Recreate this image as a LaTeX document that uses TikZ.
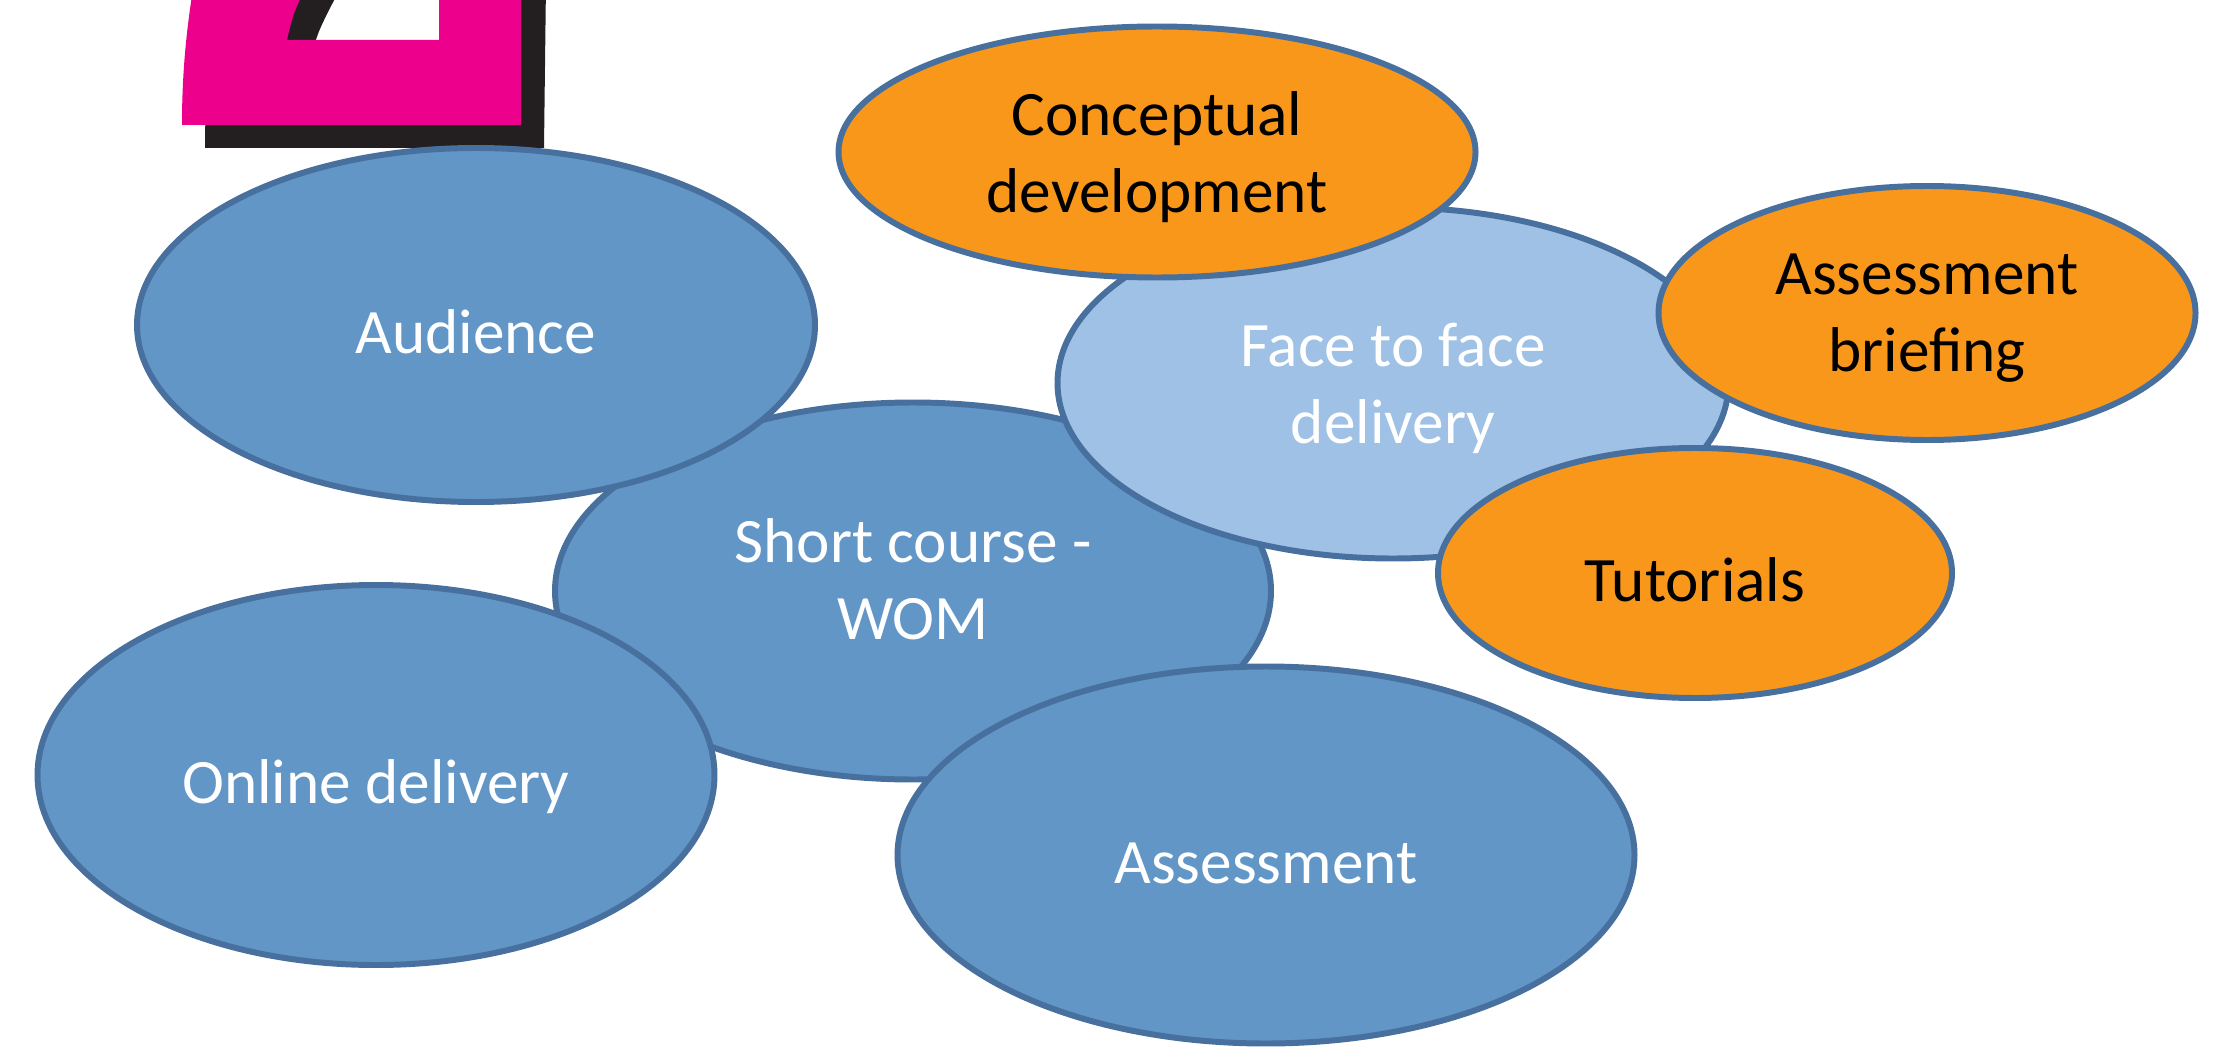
\documentclass[tikz,border=0pt]{standalone}
\usepackage{fontspec}
\setmainfont{Carlito}
\usetikzlibrary{shapes.geometric}

\definecolor{midblue}{RGB}{97,150,199}
\definecolor{lightblue}{RGB}{159,193,230}
\definecolor{rimblue}{RGB}{72,112,158}
\definecolor{tangerine}{RGB}{249,151,27}
\definecolor{magenta2}{RGB}{236,0,140}
\definecolor{shadowblack}{RGB}{35,31,32}

\begin{document}
\begin{tikzpicture}[thick, bubble/.style={ellipse,draw=rimblue,line width=1.7pt,inner sep=0pt,align=center,text depth=0pt,font=\fontsize{18}{21.9}\selectfont},
  blue node/.style={bubble,fill=midblue,text=white},
  pale node/.style={bubble,fill=lightblue,text=white},
  orange node/.style={bubble,fill=tangerine,text=black},
  one line/.style={text height=16pt}]

            \clip (0,0) rectangle (22.17,-10.48);

            % the big "2" cut off at the top
            \fill[shadowblack, shift={(0.23,-0.23)}] (1.82,-1.25) -- (5.21,-1.25) -- (5.23,0.4) -- (4.39,0.4) -- (4.39,-0.40) -- (2.87,-0.40) .. controls (2.94,-0.1) .. (3.20,0.4) -- (1.98,0.4) .. controls (1.85,-0.3) and (1.82,-0.8) .. (1.82,-1.25) -- cycle;
            \fill[magenta2] (1.82,-1.25) -- (5.21,-1.25) -- (5.21,0.4) -- (4.39,0.4) -- (4.39,-0.40) -- (2.87,-0.40) .. controls (2.94,-0.1) .. (3.20,0.4) -- (1.98,0.4) .. controls (1.85,-0.3) and (1.82,-0.8) .. (1.82,-1.25) -- cycle;

            \node[blue node, text depth=0.24cm, minimum width=7.16cm, minimum height=3.77cm] (1) at (9.13,-5.91) {Short course -\\WOM};
            \node[blue node, one line, minimum width=6.78cm, minimum height=3.54cm] (2) at (4.76,-3.25) {Audience};
            \node[blue node, one line, minimum width=6.77cm, minimum height=3.80cm] (3) at (3.76,-7.75) {Online delivery};
            \node[blue node, one line, minimum width=7.37cm, minimum height=3.77cm] (4) at (12.66,-8.55) {Assessment};
            \node[pale node, minimum width=6.71cm, minimum height=3.51cm] (5) at (13.93,-3.83) {Face to face\\delivery};
            \node[orange node, minimum width=6.37cm, minimum height=2.51cm] (6) at (11.57,-1.52) {Conceptual\\development};
            \node[orange node, minimum width=5.37cm, minimum height=2.54cm] (7) at (19.27,-3.13) {Assessment\\briefing};
            \node[orange node, one line, minimum width=5.14cm, minimum height=2.50cm] (8) at (16.95,-5.73) {Tutorials};

            ;
        \end{tikzpicture}
\end{document}
